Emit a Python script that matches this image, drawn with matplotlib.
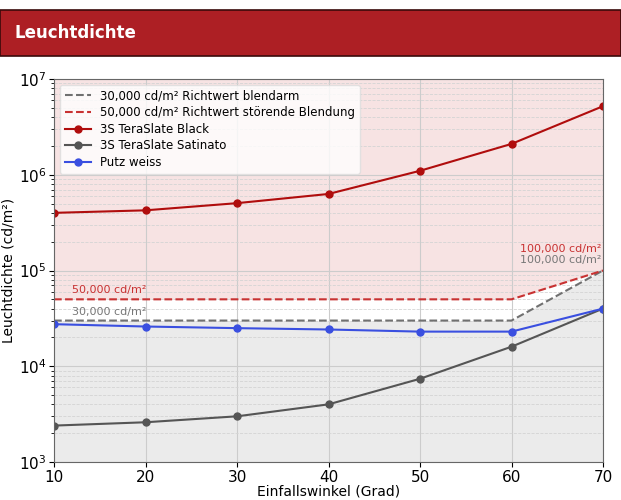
import matplotlib
matplotlib.use("Agg")
from matplotlib import pyplot as plt
from matplotlib.patches import Rectangle

angles = [10, 20, 30, 40, 50, 60, 70]
black = [400000, 425000, 505000, 630000, 1100000, 2100000, 5200000]
satinato = [2400, 2600, 3000, 4000, 7400, 16000, 40000]
putz = [27500, 26000, 25000, 24200, 23000, 23000, 40000]
limit_30k = [30000, 30000, 30000, 30000, 30000, 30000, 100000]
limit_50k = [50000, 50000, 50000, 50000, 50000, 50000, 100000]

RED = "#ad1f24"
DARKRED = "#b00d0d"

fig = plt.figure(figsize=(6.21, 5.0), dpi=100)

# header bar
fig.patches.append(Rectangle((0, 1 - 56 / 500), 1, 46 / 500, transform=fig.transFigure,
                             facecolor=RED, edgecolor="#3a0a0a", linewidth=1.2))
fig.text(14 / 621, 1 - 33 / 500, "Leuchtdichte", color="white", fontsize=12,
         fontweight="bold", ha="left", va="center")

ax = fig.add_axes([54 / 621, 1 - 462 / 500, 549 / 621, 383 / 500])
ax.set_yscale("log")
ax.set_xlim(10, 70)
ax.set_ylim(1e3, 1e7)

# zones
ax.fill_between(angles, 1e3, limit_30k, color="#d9d9d9", alpha=0.5, lw=0)
ax.fill_between(angles, limit_50k, 1e7, color="#f0c8c8", alpha=0.5, lw=0)

ax.plot(angles, limit_30k, "--", color="#707070", lw=1.5, label="30,000 cd/m² Richtwert blendarm")
ax.plot(angles, limit_50k, "--", color="#c83232", lw=1.5, label="50,000 cd/m² Richtwert störende Blendung")
ax.plot(angles, black, "-o", color=DARKRED, lw=1.5, ms=5, label="3S TeraSlate Black")
ax.plot(angles, satinato, "-o", color="#555555", lw=1.5, ms=5, label="3S TeraSlate Satinato")
ax.plot(angles, putz, "-o", color="#3a4fe0", lw=1.5, ms=5, label="Putz weiss")

ax.text(12, 55000, "50,000 cd/m²", color="#c83232", fontsize=8, va="bottom")
ax.text(12, 32500, "30,000 cd/m²", color="#777777", fontsize=8, va="bottom")
ax.text(69.8, 150000, "100,000 cd/m²", color="#c83232", fontsize=8, ha="right", va="bottom")
ax.text(69.8, 113000, "100,000 cd/m²", color="#777777", fontsize=8, ha="right", va="bottom")

ax.grid(True, which="major", color="#cccccc", lw=0.8)
ax.grid(True, which="minor", axis="y", color="#d4d4d4", lw=0.6, ls="--")
ax.set_xticks(angles)
ax.tick_params(labelsize=11, pad=2)
for s in ax.spines.values():
    s.set_color("#666666")

ax.set_xlabel("Einfallswinkel (Grad)", fontsize=10, labelpad=0)
ax.set_ylabel("Leuchtdichte (cd/m²)", fontsize=10, labelpad=2)
ax.legend(loc="upper left", fontsize=8.5, framealpha=0.8, edgecolor="#dddddd",
          handlelength=2.2, borderpad=0.4, labelspacing=0.3)

fig.savefig("out.png", dpi=100)
